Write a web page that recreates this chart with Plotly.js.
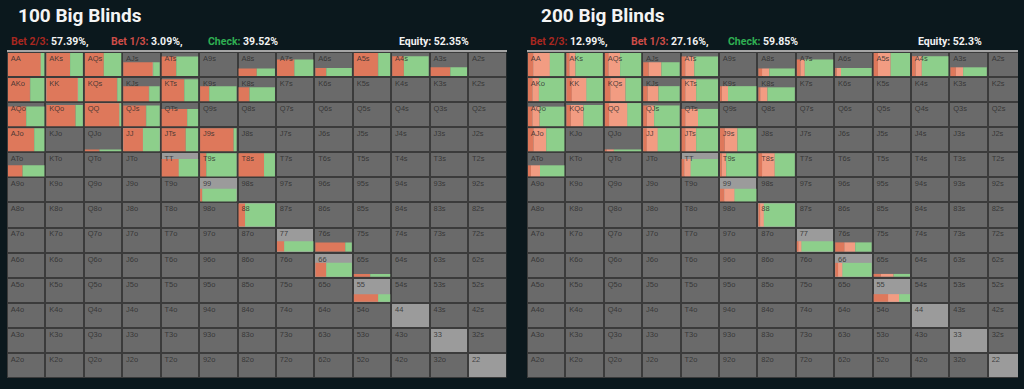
<!DOCTYPE html>
<html><head><meta charset="utf-8">
<script src="https://cdn.plot.ly/plotly-3.0.1.min.js"></script>
<style>html,body{margin:0;padding:0;background:#0b181d;overflow:hidden}#chart{width:1024px;height:389px}</style>
</head><body><div id="chart"></div>
<script>
const RANKS = ['A','K','Q','J','T','9','8','7','6','5','4','3','2'];

// 100 Big Blinds
const hands100  = ['AA','AKs','AQs','AJs','ATs','A8s','A7s','A6s','A5s','A4s','A3s',
  'AKo','KK','KQs','KJs','KTs','K9s','K8s','AQo','KQo','QQ','QJs','QTs',
  'AJo','QJo','JJ','JTs','J9s','ATo','TT','T9s','T8s','99','88','77','76s','66','65s','55'];
const weight100 = [1,1,1,.60,.85,.33,.72,.35,1,.86,.38,
  1,1,1,.65,.95,.65,.60,.85,.92,1,.90,.75,
  1,.08,1,1,1,.48,.75,1,1,.55,1,.45,.40,.60,.12,.33];
const bet23_100 = [.90,.65,.52,.80,.40,.50,.47,.30,.66,.32,.54,
  .60,.86,.88,.70,.62,.25,.30,.50,.80,.95,.62,.70,
  .72,.40,.54,.66,.92,.40,.47,.17,.70,.06,.18,.20,.82,.30,.45,.67];
const bet13_100 = [0,0,0,.02,0,0,.01,0,.01,0,0,
  .01,.01,.01,.01,0,0,0,0,0,0,.01,0,
  0,0,0,0,0,0,0,0,0,0,0,0,0,0,0,0];
const check100  = [.10,.35,.48,.18,.60,.50,.52,.70,.33,.68,.46,
  .39,.13,.11,.29,.38,.75,.70,.50,.20,.05,.37,.30,
  .28,.60,.46,.34,.08,.60,.53,.83,.30,.94,.82,.80,.18,.70,.55,.33];

// 200 Big Blinds
const hands200  = hands100;
const weight200 = weight100;
const bet23_200 = [.15,.08,.10,.15,.10,.10,.10,.04,.12,.10,.15,
  .12,.15,.15,.12,.10,.05,.05,.12,.12,.12,.10,.10,
  .15,.05,.10,.10,.13,.08,.08,.05,.10,.12,.05,.05,.25,.08,.20,.40];
const bet13_200 = [.45,.17,.32,.35,.25,.20,.12,.12,.35,.17,.20,
  .18,.40,.42,.30,.30,.17,.20,.20,.35,.50,.20,.35,
  .35,.20,.30,.30,.35,.25,.17,.12,.35,.28,.10,.08,.30,.12,.35,.30];
const check200  = [.40,.75,.58,.50,.65,.70,.78,.84,.53,.73,.65,
  .70,.45,.43,.58,.60,.78,.75,.68,.53,.38,.70,.55,
  .50,.75,.60,.60,.52,.67,.75,.83,.55,.60,.85,.87,.45,.80,.45,.30];

const summary100 = {bet23:'57.39%', bet13:'3.09%', check:'39.52%', equity:'52.35%'};
const summary200 = {bet23:'12.99%', bet13:'27.16%', check:'59.85%', equity:'52.3%'};

const BG='#0b181d', CELL='#6a6a6a', PAIR='#9b9b9b', GRID='#3b3b3b';
const C23='#de785b', C13='#f29c82', CCK='#8dcf8b';

function cellOf(h){
  const a=RANKS.indexOf(h[0]), b=RANKS.indexOf(h[1]);
  if(h.length===2) return [a,a];
  if(h[2]==='s') return [a,b];
  return [b,a];
}
function label(r,c){
  if(r===c) return RANKS[r]+RANKS[c];
  if(r<c) return RANKS[r]+RANKS[c]+'s';
  return RANKS[c]+RANKS[r]+'o';
}

function panel(xa, ya, hands, w, b23, b13, chk){
  const tr=[];
  const idx=RANKS.map((_,i)=>i+0.5);
  const z=RANKS.map((_,r)=>RANKS.map((_,c)=>r===c?1:0));
  tr.push({type:'heatmap',x:idx,y:idx,z:z,xaxis:xa,yaxis:ya,zmin:0,zmax:1,
    colorscale:[[0,CELL],[1,PAIR]],showscale:false,xgap:2,ygap:2,hoverinfo:'skip'});
  const GX=1/38.4, GY=1/25.1;
  const cum=hands.map(()=>0);
  [[b23,C23],[b13,C13],[chk,CCK]].forEach(([vals,color])=>{
    const x=[],y=[],base=[],width=[];
    hands.forEach((h,i)=>{
      const [r,c]=cellOf(h);
      const hgt=w[i]*(1-2*GY);
      y.push(r+1-GY-hgt/2); width.push(hgt);
      base.push(c+GX+(1-2*GX)*cum[i]);
      x.push((1-2*GX)*vals[i]);
      cum[i]+=vals[i];
    });
    tr.push({type:'bar',orientation:'h',x:x,y:y,base:base,width:width,xaxis:xa,yaxis:ya,
      marker:{color:color,line:{width:0}},hoverinfo:'skip'});
  });
  const lx=[],ly=[],lt=[];
  RANKS.forEach((_,r)=>RANKS.forEach((_,c)=>{lx.push(c+0.1);ly.push(r+0.28);lt.push(label(r,c));}));
  tr.push({type:'scatter',mode:'text',x:lx,y:ly,text:lt,textposition:'middle right',xaxis:xa,yaxis:ya,
    textfont:{family:'Liberation Sans, Arial, sans-serif',size:7.5,color:'rgba(45,45,45,0.85)'},hoverinfo:'skip',cliponaxis:true});
  return tr;
}

const data=[].concat(
  panel('x','y',hands100,weight100,bet23_100,bet13_100,check100),
  panel('x2','y2',hands200,weight200,bet23_200,bet13_200,check200)
);

const ax={showgrid:false,zeroline:false,showticklabels:false,ticks:'',fixedrange:true};
const px=v=>v/1024, py=v=>1-v/389;
function summaryAnn(s, xs){
  const f={family:'Roboto, sans-serif',size:10.5,color:'#f2f2f2'};
  const mk=(x,t)=>({xref:'paper',yref:'paper',x:px(x),y:py(41),xanchor:'left',yanchor:'middle',showarrow:false,text:t,font:f});
  return [
    mk(xs[0],"<b><span style='color:#a82720'>Bet 2/3:</span> "+s.bet23+",</b>"),
    mk(xs[1],"<b><span style='color:#cf4d48'>Bet 1/3:</span> "+s.bet13+",</b>"),
    mk(xs[2],"<b><span style='color:#2fae52'>Check:</span> "+s.check+"</b>"),
    mk(xs[3],"<b>Equity: "+s.equity+"</b>")
  ];
}
const titleFont={family:'Roboto, sans-serif',size:19,color:'#f4f4f4'};
const annotations=[
  {xref:'paper',yref:'paper',x:px(16),y:py(16),xanchor:'left',yanchor:'middle',showarrow:false,text:'<b>100 Big Blinds</b>',font:titleFont},
  {xref:'paper',yref:'paper',x:px(539),y:py(16),xanchor:'left',yanchor:'middle',showarrow:false,text:'<b>200 Big Blinds</b>',font:titleFont}
].concat(summaryAnn(summary100,[9,109,206,397]), summaryAnn(summary200,[528,629,726,916]));

const layout={
  width:1024,height:389,margin:{l:0,r:0,t:0,b:0},
  paper_bgcolor:BG,plot_bgcolor:GRID,barmode:'overlay',showlegend:false,
  xaxis:Object.assign({},ax,{domain:[px(7),px(506.5)],range:[0,13],side:'top',showline:true,linecolor:'#a5a5a5',linewidth:2,anchor:'y'}),
  yaxis:Object.assign({},ax,{domain:[1-378/389,1-52/389],range:[13,0],anchor:'x'}),
  xaxis2:Object.assign({},ax,{domain:[px(527),px(1018)],range:[0,491/38.4],side:'top',showline:true,linecolor:'#a5a5a5',linewidth:2,anchor:'y2'}),
  yaxis2:Object.assign({},ax,{domain:[1-378/389,1-52/389],range:[13,0],anchor:'x2'}),
  annotations:annotations
};
Plotly.newPlot('chart',data,layout,{displayModeBar:false,staticPlot:true});
</script></body></html>
